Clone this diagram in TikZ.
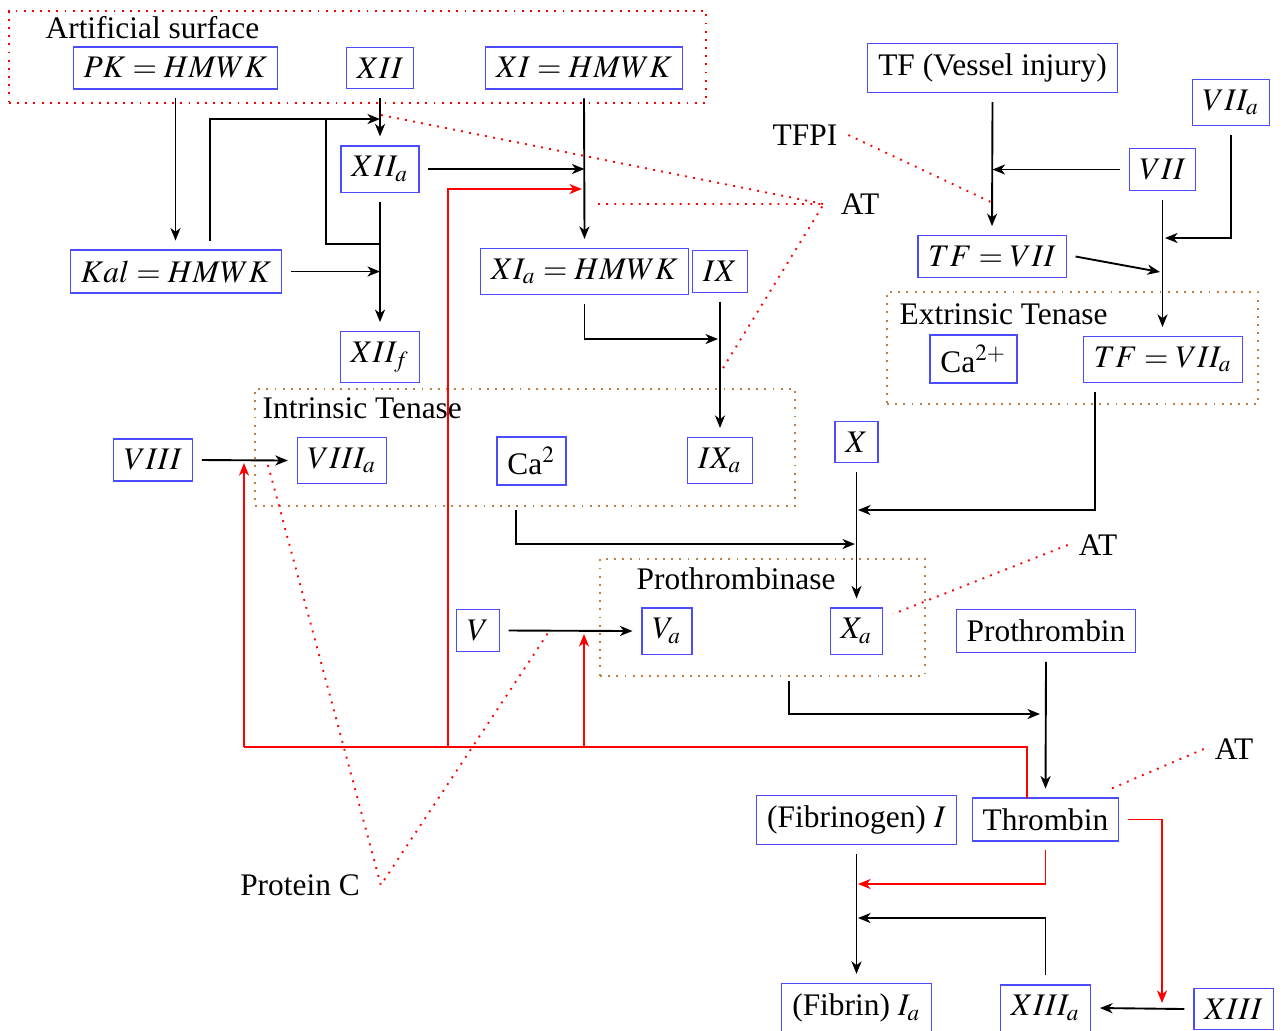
\documentclass[tikz,border=0pt]{standalone}
\usepackage{mathptmx}
\usepackage{fontspec}
\setmainfont{Liberation Serif}
\usetikzlibrary{arrows.meta,calc,fit}
\tikzset{
 box/.style={draw=blue!70, outer sep=3pt},
 lab/.style={inner sep=0pt, anchor=west},
 grp/.style={draw=brown, dotted, semithick, inner sep=0pt, outer sep=0pt},
 conn/.style={semithick, -{Stealth[length=4pt,width=3.2pt,inset=1.2pt]}},
 rconn/.style={semithick, red, -{Stealth[length=4pt,width=3.2pt,inset=1.2pt]}},
 wire/.style={semithick},
 rwire/.style={semithick, red},
 inh/.style={red, semithick, dotted}
}
\begin{document}
\begin{tikzpicture}[x=0.3185pt, y=-0.3185pt]
\useasboundingbox (0,0) rectangle (1284,1030);
\fill[white] (0,0) rectangle (1284,1030);

% group boxes
\node[grp, draw=red, fit={(9,11)(706,103)}] (art) {};
\node[grp, fit={(255,389)(795,506)}] (itn) {};
\node[grp, fit={(887,292)(1258,404)}] (etn) {};
\node[grp, fit={(600,559)(925,676)}] (ptn) {};

% group labels
\node[lab] (artl) at (45,28) {Artificial surface};
\node[lab] (itnl) at (262,408) {Intrinsic Tenase};
\node[lab] (etnl) at (899,314) {Extrinsic Tenase};
\node[lab] (ptnl) at (636,579) {Prothrombinase};

% other labels
\node (tfpi) at (805,135) {TFPI};
\node (at1) at (860,204) {AT};
\node (at2) at (1098,545) {AT};
\node (at3) at (1234,749) {AT};
\node (protc) at (300,885) {Protein C};

% factor boxes
\node[box] (pk) at (175.5,68) {$PK=HMWK$};
\node[box] (xii) at (380,68) {$XII$};
\node[box] (xi) at (584,68) {$XI=HMWK$};
\node[box] (xiia) at (380,169) {$XII_a$};
\node[box] (kal) at (176,271.5) {$Kal=HMWK$};
\node[box] (xiif) at (380,357) {$XII_f$};
\node[box] (xia) at (584.5,271.5) {$XI_a=HMWK$};
\node[box] (ix) at (720,271.5) {$IX$};
\node[box] (viii) at (153,460) {$VIII$};
\node[box] (viiia) at (342,460.5) {$VIII_a$};
\node[box] (ca2) at (531.5,461) {Ca$^2$};
\node[box] (ixa) at (720,460.5) {$IX_a$};
\node[box] (x) at (856.5,442) {$X$};
\node[box] (v) at (478,630.5) {$V$};
\node[box] (va) at (667,631) {$V_a$};
\node[box] (xa) at (856.5,631) {$X_a$};
\node[box] (proth) at (1046,631) {Prothrombin};
\node[box] (fbg) at (856.5,820) {(Fibrinogen) $I$};
\node[box] (thr) at (1045.5,819.5) {Thrombin};
\node[box] (fbn) at (856.5,1008) {(Fibrin) $I_a$};
\node[box] (xiiia) at (1045.5,1008) {$XIII_a$};
\node[box] (xiii) at (1233.5,1009) {$XIII$};
\node[box] (tf) at (992.5,68) {TF (Vessel injury)};
\node[box] (viia) at (1231,102.5) {$VII_a$};
\node[box] (vii) at (1162.5,169.5) {$VII$};
\node[box] (tfvii) at (992,256.5) {$TF=VII$};
\node[box] (ca2p) at (973.5,359) {Ca$^{2+}$};
\node[box] (tfviia) at (1163,359.5) {$TF=VII_a$};

% junction coordinates
\coordinate (j1) at (380,119);
\coordinate (j2) at (326,244);
\coordinate (rb) at (244,747);
\coordinate (r448) at (448,747);
\coordinate (r584) at (584,747);
\coordinate (e1) at (582,189);
\coordinate (e2) at (584,634);
\coordinate (e3) at (718,339);
\coordinate (e4) at (855,544);
\coordinate (e5) at (858,510);
\coordinate (e6) at (1040,714);
\coordinate (e7) at (1162,1003);
\coordinate (e8) at (858,884);
\coordinate (e9) at (858,918);
\coordinate (e10) at (1165,238);
\coordinate (e11) at (1160,272);
\coordinate (e12) at (244,463);

% intrinsic / contact pathway
\draw[conn] (pk.south) -- (pk.south |- kal.north);
\draw[conn] ($(kal.north)+(34,0)$) |- (j1);
\draw[conn] (xii.south) -- (xiia.north);
\draw[wire] (xiia |- j2) -- (j2) -- (j2 |- j1);
\draw[conn] (kal.east) -- (kal.east -| xiia);
\draw[conn] (xiia.south) -- (xiif.north);
\draw[conn] (xiia.east) -- (xiia.east -| xia);
\draw[conn] (xi.south) -- (xia.north);
\draw[conn] (xia.south) |- (e3);
\draw[conn] (ix.south) -- (ixa.north);
\draw[conn] (viii.east) -- (viiia.west);
\draw[conn] ($(itn.south)+(-9,4)$) |- (e4);
\draw[conn] (x.south) -- (xa.north);
\draw[conn] ($(tfviia.south)+(-68,0)$) |- (e5);
\draw[conn] (v.east) -- (va.west);
\draw[conn] ($(ptn.south)+(26.5,5)$) |- (e6);
\draw[conn] (proth.south) -- (thr.north);
\draw[conn] (fbg.south) -- (fbn.north);
\draw[conn] (xiiia.north) |- (e9);
\draw[conn] (xiii.west) -- (xiiia.east);

% extrinsic pathway
\draw[conn] (tf.south) -- (tfvii.north);
\draw[conn] (vii.west) -- (vii.west -| tf);
\draw[conn] (viia.south) |- (e10);
\draw[conn] (tfvii.east) -- (e11);
\draw[conn] (vii.south) -- (vii.south |- tfviia.north);

% thrombin feedback (red)
\draw[rwire] ($(thr.north)+(-18.5,9.4)$) |- (rb);
\draw[rconn] (rb) -- (e12);
\draw[rconn] (r448) |- (e1);
\draw[rconn] (r584) -- (e2);
\draw[rconn] (thr.east) -| (e7);
\draw[rconn] (thr.south) |- (e8);

% inhibitors (dotted)
\coordinate (d1) at (381,115);
\coordinate (d2) at (598,204);
\coordinate (d3) at (720,373);
\coordinate (d4) at (993,203);
\coordinate (d5) at (893,614);
\coordinate (d6) at (1108,790);
\coordinate (d7) at (268,465);
\coordinate (d8) at (548,633);
\draw[inh] (d1) -- ($(at1.west)+(-6,0)$);
\draw[inh] (d2) -- ($(at1.west)+(-6,0)$) -- (d3);
\draw[inh] (tfpi.east) -- (d4);
\draw[inh] (at2.west) -- (d5);
\draw[inh] (at3.west) -- (d6);
\draw[inh] (d7) -- ($(protc.east)+(10,0)$) -- (d8);
\end{tikzpicture}
\end{document}
